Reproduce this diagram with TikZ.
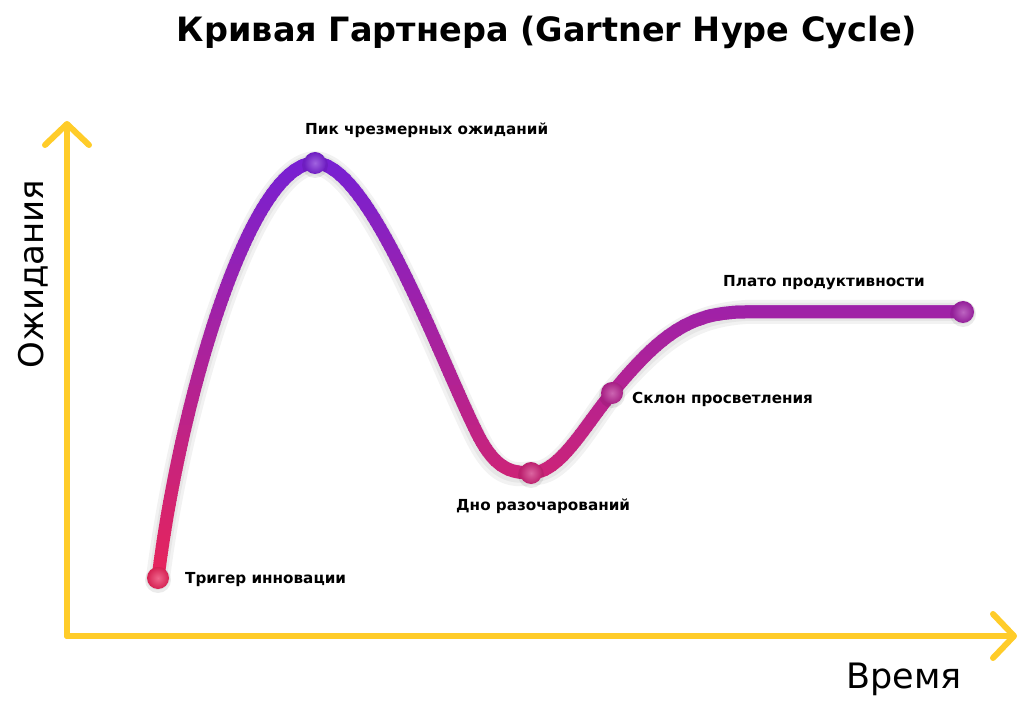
\documentclass[tikz,border=0pt]{standalone}
\usepackage{fontspec}
\setmainfont{DejaVu Sans}
\usetikzlibrary{arrows.meta,positioning}

\definecolor{hypered}{HTML}{E8245A}
\definecolor{hypepurple}{HTML}{7820D2}
\definecolor{axisyellow}{HTML}{FFCC29}

\tikzset{
  axis/.style={line width=6pt, axisyellow, line cap=round, line join=round,
    -{Straight Barb[length=21pt,width=44pt,round]}},
  hype/.style={line width=13pt, line cap=round, line join=round},
  hypeshadow/.style={line width=24pt, line cap=round, line join=round, black, opacity=.05},
  lbl/.style={font=\fontsize{15.2}{18}\selectfont\bfseries, inner sep=0pt, anchor=base west},
}

\newcommand{\hypecurve}{(trig) .. controls (180,400) and (250,163) .. (peak)
  .. controls (370,163) and (440,360) .. (478,435)
  .. controls (495,468) and (510,473) .. (valley)
  .. controls (560,473) and (585,425) .. (slope)
  .. controls (660,335) and (690,312) .. (plstart) -- (plateau)}

\begin{document}
\begin{tikzpicture}[x=1pt, y=-1pt]

  \useasboundingbox (0,0) rectangle (1028,711);

  % title
  \node[font=\fontsize{33.5}{38}\selectfont\bfseries, anchor=base] (title) at (547,42)
    {Кривая Гартнера (Gartner Hype Cycle)};

  % axes
  \coordinate (origin) at (67,636);
  \coordinate (ytip) at (67,121);
  \coordinate (xtip) at (1017,636);
  \draw[axis] (origin) -- (ytip);
  \draw[axis] (origin) -- (xtip);
  \node[font=\fontsize{35}{40}\selectfont, anchor=base east] (xlbl) at (965,688) {Время};
  \node[font=\fontsize{34}{40}\selectfont, anchor=base, rotate=90] (ylbl) at (43,274) {Ожидания};

  % points of the curve
  \coordinate (trig) at (158,578);
  \coordinate (peak) at (315,163);
  \coordinate (valley) at (531,473);
  \coordinate (slope) at (612,393);
  \coordinate (plstart) at (745,312);
  \coordinate (plateau) at (963,312);

  % curve, shadow then colour bands
  \draw[hypeshadow, yshift=-4pt] \hypecurve;
  \draw[hypeshadow, line width=18pt, yshift=-3pt] \hypecurve;
  \foreach \i in {0,...,92} {
    \pgfmathsetmacro\yy{145+5*\i}
    \pgfmathtruncatemacro\redpart{min(100,max(0,(\yy+2.5-163)/4.15))}
    \begin{scope}
      \clip (100,\yy) rectangle (1000,\yy+5.3);
      \draw[hype, color=hypered!\redpart!hypepurple] \hypecurve;
    \end{scope}
  }

  % dots
  \foreach \p/\r in {trig/100, peak/0, valley/75, slope/55, plateau/36} {
    \fill[black, opacity=.08] ([yshift=-2pt]\p) circle [radius=13];
    \shade[inner color=hypered!\r!hypepurple!70!white, outer color=hypered!\r!hypepurple!92!black]
      (\p) circle [radius=11];
  }

  % labels
  \node[lbl] (triglbl) at ([shift={(27,5)}]trig) {Тригер инновации};
  \node[lbl] (peaklbl) at ([shift={(-10,-28)}]peak) {Пик чрезмерных ожиданий};
  \node[lbl] (valleylbl) at ([shift={(-75,37)}]valley) {Дно разочарований};
  \node[lbl] (slopelbl) at ([shift={(20,10)}]slope) {Склон просветления};
  \node[lbl] (plateaulbl) at ([shift={(-22,-25)}]plstart) {Плато продуктивности};

\end{tikzpicture}
\end{document}
